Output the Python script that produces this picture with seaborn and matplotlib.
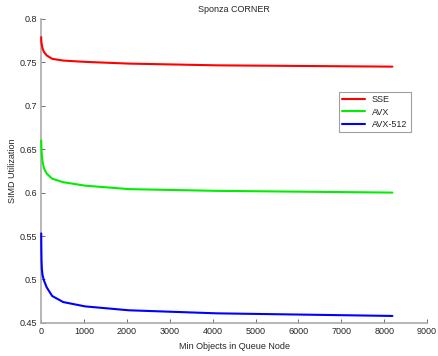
import numpy as np
import pandas as pd
import matplotlib
matplotlib.use('Agg')
import matplotlib.pyplot as plt
import seaborn as sns

# Min objects in queue node (powers of two)
min_objects = [1, 2, 4, 8, 16, 32, 64, 128, 256, 512, 1024, 2048, 4096, 8192]
sse = [0.779, 0.776, 0.774, 0.772, 0.770, 0.766, 0.762, 0.758, 0.754, 0.752, 0.7505, 0.7485, 0.7465, 0.745]
avx = [0.660, 0.658, 0.655, 0.650, 0.643, 0.636, 0.628, 0.622, 0.616, 0.612, 0.608, 0.604, 0.602, 0.600]
avx512 = [0.553, 0.545, 0.535, 0.522, 0.512, 0.505, 0.499, 0.491, 0.481, 0.474, 0.469, 0.4645, 0.461, 0.458]

series_names = ['SSE', 'AVX', 'AVX-512']
series_colors = ['#ff0000', '#00ee00', '#0000ff']

df = pd.DataFrame({'x': min_objects * 3,
                   'y': sse + avx + avx512,
                   'series': [n for n in series_names for _ in min_objects]})

sns.set_theme(style='ticks')
plt.rcParams['font.family'] = ['Liberation Sans', 'DejaVu Sans']

fig = plt.figure(figsize=(4.38, 3.56), dpi=100)
ax = fig.add_axes([0.094, 0.093, 0.881, 0.854])

sns.lineplot(data=df, x='x', y='y', hue='series', palette=series_colors,
             hue_order=series_names, linewidth=1.5, ax=ax)
for line in ax.lines:
    line.set_zorder(3)
    line.set_clip_on(False)

ax.set_xlim(0, 9000)
ax.set_ylim(0.45, 0.8)
ax.set_xticks(range(0, 9001, 1000))
ax.set_yticks([0.45, 0.5, 0.55, 0.6, 0.65, 0.7, 0.75, 0.8])
ax.set_yticklabels(['0.45', '0.5', '0.55', '0.6', '0.65', '0.7', '0.75', '0.8'])
ax.tick_params(direction='in', labelsize=6.5, length=3, width=0.6, color='#555555', pad=3)
for s in ['top', 'right']:
    ax.spines[s].set_visible(False)
ax.spines['left'].set_color('#aaaaaa')
ax.spines['left'].set_linewidth(1.2)
ax.spines['bottom'].set_color('#aaaaaa')
ax.spines['bottom'].set_linewidth(1.2)

ax.set_xlabel('Min Objects in Queue Node', fontsize=6.5, labelpad=4)
ax.set_ylabel('SIMD Utilization', fontsize=6.5, labelpad=2)
ax.set_title('Sponza CORNER', fontsize=6.5, pad=5)

leg = ax.legend(loc='upper right', bbox_to_anchor=(0.97, 0.775), fontsize=6.5,
                frameon=True, fancybox=False, handlelength=2.5, borderpad=0.4,
                labelspacing=0.35)
leg.get_frame().set_edgecolor('#888888')
leg.get_frame().set_linewidth(0.8)

fig.savefig('out.png', dpi=100)
